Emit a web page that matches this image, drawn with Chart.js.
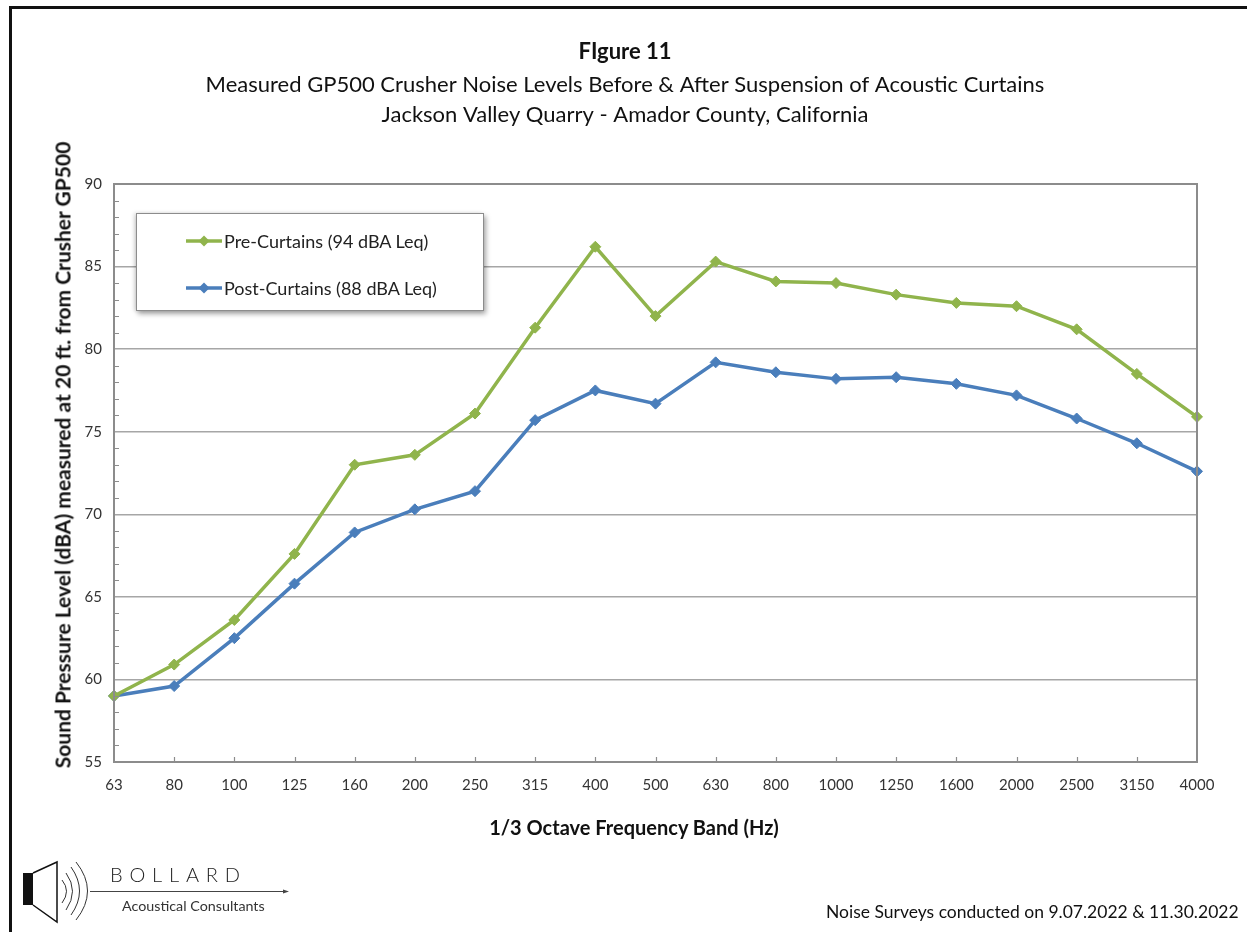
<!DOCTYPE html>
<html>
<head>
<meta charset="utf-8">
<script src="https://cdn.jsdelivr.net/npm/chart.js@4.4.1/dist/chart.umd.min.js"></script>
<style>
  html, body { margin: 0; padding: 0; background: #fff; }
  #wrap { position: relative; width: 1247px; height: 932px; overflow: hidden; font-family: Lato, "Open Sans", sans-serif; }
  #frame { position: absolute; left: 9px; top: 6px; width: 1260px; height: 960px; border-left: 3px solid #111; border-top: 3px solid #111; }
  canvas { position: absolute; left: 0; top: 0; }
  #legend { position: absolute; left: 136px; top: 213px; width: 346px; height: 96px; background: #fff;
            border: 1px solid #8c8c8c; box-shadow: 2px 3px 5px rgba(0,0,0,0.35), -2px 0 4px rgba(0,0,0,0.15); }
  .swatch { position: absolute; left: 48px; }
  .label { position: absolute; left: 87px; font-size: 18px; line-height: 22px; color: #222; white-space: nowrap; }
  .axis-title { position: absolute; font-weight: bold; color: #111; white-space: nowrap; line-height: 1; }
  #xtitle { left: 634px; top: 827px; font-size: 20px; transform: translate(-50%, -50%); }
  #ytitle { left: 62px; top: 455px; font-size: 21px; transform: translate(-50%, -50%) rotate(-90deg); }
  #footer { position: absolute; left: 826px; top: 901px; font-size: 17.5px; color: #111; white-space: nowrap; }
  #logo { position: absolute; left: 0; top: 840px; }
</style>
</head>
<body>
<div id="wrap">
  <div id="frame"></div>
  <canvas id="chart" width="1247" height="932"></canvas>
  <div id="legend"></div>
  <div id="xtitle" class="axis-title">1/3 Octave Frequency Band (Hz)</div>
  <div id="ytitle" class="axis-title">Sound Pressure Level (dBA) measured at 20 ft. from Crusher GP500</div>
  <svg id="logo" width="300" height="92" viewBox="0 0 300 92">
    <rect x="23" y="33" width="10" height="32" fill="#111"/>
    <path d="M33 33 L57 22 L57 82 L33 65" fill="none" stroke="#111" stroke-width="1.5"/>
    <path d="M62 40 Q71 51 62 63" fill="none" stroke="#333" stroke-width="1"/>
    <path d="M66 33 Q79 51 66 70" fill="none" stroke="#333" stroke-width="1"/>
    <path d="M71 27 Q88 51 71 75" fill="none" stroke="#333" stroke-width="1"/>
    <path d="M76 22 Q99 51 76 80" fill="none" stroke="#333" stroke-width="1"/>
    <line x1="90" y1="51.5" x2="286" y2="51.5" stroke="#444" stroke-width="1"/>
    <path d="M283 49.5 L289 51.5 L283 53.5 Z" fill="#444"/>
    <text x="110" y="42" font-family="Lato, sans-serif" font-size="20" letter-spacing="6.8" fill="#222" font-weight="300">BOLLARD</text>
    <text x="122" y="71" font-family="Lato, sans-serif" font-size="14.3" fill="#333">Acoustical Consultants</text>
  </svg>
  <div id="footer">Noise Surveys conducted on 9.07.2022 &amp; 11.30.2022</div>
</div>
<script>
const frequencies = ["63", "80", "100", "125", "160", "200", "250", "315", "400", "500",
  "630", "800", "1000", "1250", "1600", "2000", "2500", "3150", "4000"];
const preCurtains = [59.0, 60.9, 63.6, 67.6, 73.0, 73.6, 76.1, 81.3, 86.2, 82.0,
  85.3, 84.1, 84.0, 83.3, 82.8, 82.6, 81.2, 78.5, 75.9];
const postCurtains = [59.0, 59.6, 62.5, 65.8, 68.9, 70.3, 71.4, 75.7, 77.5, 76.7,
  79.2, 78.6, 78.2, 78.3, 77.9, 77.2, 75.8, 74.3, 72.6];
const seriesNames = ["Pre-Curtains (94 dBA Leq)", "Post-Curtains (88 dBA Leq)"];
const seriesColors = ["#90b44c", "#4a7ebb"];

const fontFamily = "Lato, 'Open Sans', sans-serif";

// plot border + small inside tick marks, like the excel original
const plotFrame = {
  id: "plotFrame",
  afterDraw(chart) {
    const { ctx, chartArea: a, scales } = chart;
    ctx.save();
    ctx.strokeStyle = "#8c8c8c";
    ctx.lineWidth = 1.2;
    ctx.beginPath();
    const y = scales.y;
    for (let v = Math.ceil(y.min); v < y.max; v++) {
      if (v % 5 === 0) continue;
      const py = Math.round(y.getPixelForValue(v)) + 0.5;
      ctx.moveTo(a.left, py);
      ctx.lineTo(a.left + 5, py);
    }
    const x = scales.x;
    for (let i = 1; i < frequencies.length - 1; i++) {
      const px = Math.round(x.getPixelForValue(i)) + 0.5;
      ctx.moveTo(px, a.bottom);
      ctx.lineTo(px, a.bottom - 5);
    }
    ctx.stroke();
    ctx.lineWidth = 2;
    ctx.strokeRect(a.left, a.top, a.right - a.left, a.bottom - a.top);
    ctx.restore();
  }
};

const ctx = document.getElementById("chart").getContext("2d");
const chart = new Chart(ctx, {
  type: "line",
  data: {
    labels: frequencies,
    datasets: [
      {
        label: seriesNames[0],
        data: preCurtains,
        borderColor: seriesColors[0],
        backgroundColor: seriesColors[0],
        borderWidth: 3.5,
        pointStyle: "rectRot",
        pointRadius: 5.5,
        pointBorderWidth: 1,
        tension: 0
      },
      {
        label: seriesNames[1],
        data: postCurtains,
        borderColor: seriesColors[1],
        backgroundColor: seriesColors[1],
        borderWidth: 3.5,
        pointStyle: "rectRot",
        pointRadius: 5.5,
        pointBorderWidth: 1,
        tension: 0
      }
    ]
  },
  options: {
    responsive: false,
    animation: false,
    layout: { padding: { top: 30, left: 53, right: 50, bottom: 95 } },
    scales: {
      x: {
        grid: { display: false, drawTicks: false },
        border: { display: false },
        ticks: { color: "#333", padding: 14, font: { family: fontFamily, size: 15 }, maxRotation: 0, autoSkip: false },
        afterFit(scale) { scale.height = 75; }
      },
      y: {
        min: 55,
        max: 90,
        ticks: { stepSize: 5, color: "#333", padding: 12, font: { family: fontFamily, size: 15 } },
        grid: { color: "#a6a6a6", lineWidth: 1.5, drawTicks: false },
        border: { display: false },
        afterFit(scale) { scale.width = 61; }
      }
    },
    plugins: {
      legend: { display: false },
      tooltip: { enabled: false },
      title: {
        display: true,
        text: "FIgure 11",
        color: "#111",
        padding: { top: 9, bottom: 0 },
        font: { family: fontFamily, size: 22, weight: "bold", lineHeight: 1.2 }
      },
      subtitle: {
        display: true,
        text: ["Measured GP500 Crusher Noise Levels Before & After Suspension of Acoustic Curtains",
               "Jackson Valley Quarry - Amador County, California"],
        color: "#111",
        padding: { top: 4.6, bottom: 54 },
        font: { family: fontFamily, size: 22, lineHeight: 30 / 22 }
      }
    }
  },
  plugins: [plotFrame]
});

// html legend, built from the datasets
const legend = document.getElementById("legend");
chart.data.datasets.forEach((ds, i) => {
  const top = 16 + i * 47;
  const sw = document.createElementNS("http://www.w3.org/2000/svg", "svg");
  sw.setAttribute("class", "swatch");
  sw.setAttribute("width", "38");
  sw.setAttribute("height", "22");
  sw.style.top = top + "px";
  sw.innerHTML = '<line x1="1" y1="11" x2="37" y2="11" stroke="' + ds.borderColor +
    '" stroke-width="3.5"/><path d="M19 5.5 L24.5 11 L19 16.5 L13.5 11 Z" fill="' + ds.borderColor + '"/>';
  legend.appendChild(sw);
  const lab = document.createElement("div");
  lab.className = "label";
  lab.style.top = top + "px";
  lab.textContent = ds.label;
  legend.appendChild(lab);
});
</script>
</body>
</html>
